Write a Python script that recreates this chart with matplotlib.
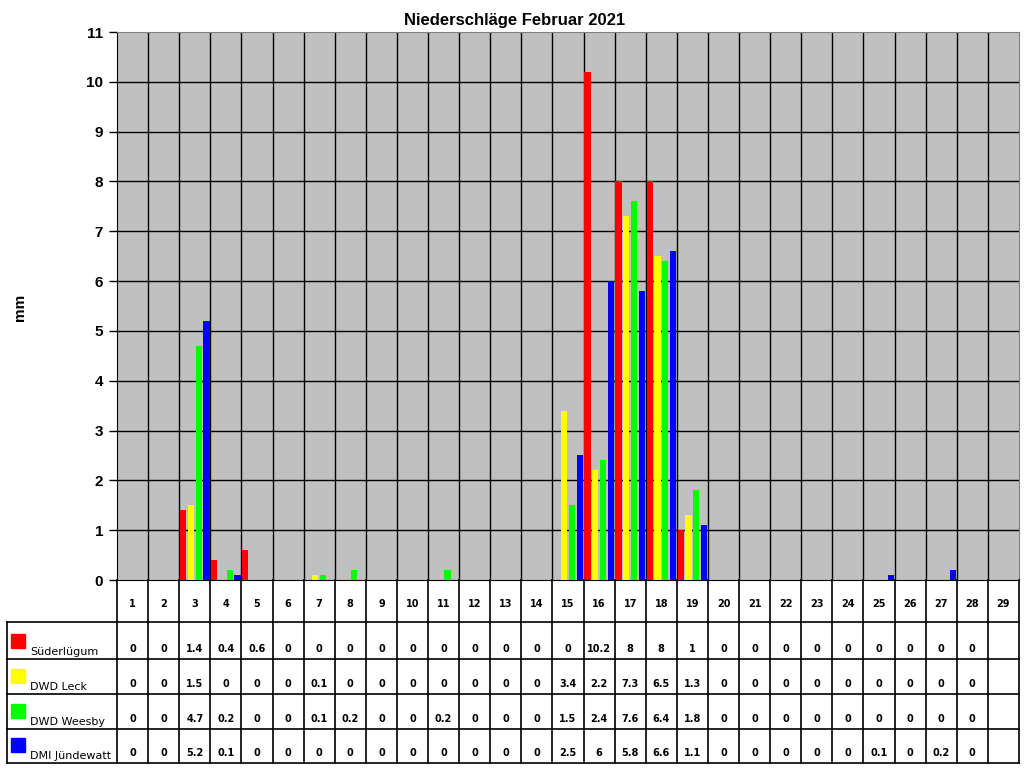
import numpy as np
import matplotlib.pyplot as plt

# === Daten ===
tage = list(range(1, 30))
stationen = ["Süderlügum", "DWD Leck", "DWD Weesby", "DMI Jündewatt"]
farben = ["#FF0000", "#FFFF00", "#00FF00", "#0000FF"]

suederluegum = [0, 0, 1.4, 0.4, 0.6, 0, 0, 0, 0, 0, 0, 0, 0, 0, 0, 10.2, 8, 8, 1, 0, 0, 0, 0, 0, 0, 0, 0, 0, None]
dwd_leck = [0, 0, 1.5, 0, 0, 0, 0.1, 0, 0, 0, 0, 0, 0, 0, 3.4, 2.2, 7.3, 6.5, 1.3, 0, 0, 0, 0, 0, 0, 0, 0, 0, None]
dwd_weesby = [0, 0, 4.7, 0.2, 0, 0, 0.1, 0.2, 0, 0, 0.2, 0, 0, 0, 1.5, 2.4, 7.6, 6.4, 1.8, 0, 0, 0, 0, 0, 0, 0, 0, 0, None]
dmi_juendewatt = [0, 0, 5.2, 0.1, 0, 0, 0, 0, 0, 0, 0, 0, 0, 0, 2.5, 6, 5.8, 6.6, 1.1, 0, 0, 0, 0, 0, 0.1, 0, 0.2, 0, None]
serien = [suederluegum, dwd_leck, dwd_weesby, dmi_juendewatt]

W, H = 1024, 768
fig = plt.figure(figsize=(10.24, 7.68), dpi=100)

def px_box(x0, y0, x1, y1):
    return [x0 / W, 1 - y1 / H, (x1 - x0) / W, (y1 - y0) / H]

# === Diagramm ===
ax = fig.add_axes(px_box(117, 32, 1019, 580))
ax.set_facecolor("#C0C0C0")
x = np.array(tage)
offsets = [-0.375, -0.125, 0.125, 0.375]
for werte, farbe, off in zip(serien, farben, offsets):
    y = np.array([np.nan if v is None else v for v in werte], dtype=float)
    ax.bar(x + off, y, width=0.2, color=farbe, zorder=3)

ax.set_xlim(0.5, 29.5)
ax.set_ylim(0, 11)
ax.set_yticks(range(0, 12))
ax.set_yticklabels([str(i) for i in range(12)], fontsize=11, fontweight="bold",
                   family="Liberation Sans")
ax.set_xticks([])
for yy in range(1, 11):
    ax.axhline(yy, color="black", lw=1, zorder=1)
for xx in np.arange(1.5, 29.5, 1):
    ax.axvline(xx, color="black", lw=1, zorder=1)
for s in ["left", "bottom"]:
    ax.spines[s].set_color("black")
for s in ["top", "right"]:
    ax.spines[s].set_color("#808080")
ax.tick_params(axis="y", length=6, width=1, pad=4)
fig.text(515 / W, 1 - 20 / H, "Niederschläge Februar 2021", ha="center", va="center",
         fontsize=12, fontweight="bold", family="Liberation Sans")
fig.text(20 / W, 1 - 307 / H, "mm", rotation=90, ha="center", va="center",
         fontsize=11, fontweight="bold", family="Liberation Sans")

# === Tabelle ===
tab = fig.add_axes([0, 0, 1, 1])
tab.set_xlim(0, W)
tab.set_ylim(H, 0)
tab.axis("off")
col_w = (1019 - 117) / 29
row_y = [580, 622, 659, 694, 729, 763]
lw = 1.2
for i in range(30):
    xx = 117 + i * col_w
    tab.plot([xx, xx], [580, row_y[-1]], color="black", lw=lw)
tab.plot([7, 7], [row_y[1], row_y[-1]], color="black", lw=lw)
for yy in row_y[1:]:
    tab.plot([7, 1019], [yy, yy], color="black", lw=lw)

for i, t in enumerate(tage):
    tab.text(117 + (i + 0.5) * col_w, 604, str(t), ha="center", va="center",
             fontsize=7, fontweight="bold", family="DejaVu Sans")

for r, (name, farbe, werte) in enumerate(zip(stationen, farben, serien)):
    top, bot = row_y[r + 1], row_y[r + 2]
    tab.add_patch(plt.Rectangle((11, bot - 25), 14, 14, color=farbe))
    tab.text(30, bot - 2, name, ha="left", va="bottom", fontsize=8,
             family="DejaVu Sans")
    for i, v in enumerate(werte):
        if v is None:
            continue
        tab.text(117 + (i + 0.5) * col_w, bot - 10, f"{v:g}", ha="center",
                 va="center", fontsize=7, fontweight="bold", family="DejaVu Sans")

fig.savefig("out.png", dpi=100)
